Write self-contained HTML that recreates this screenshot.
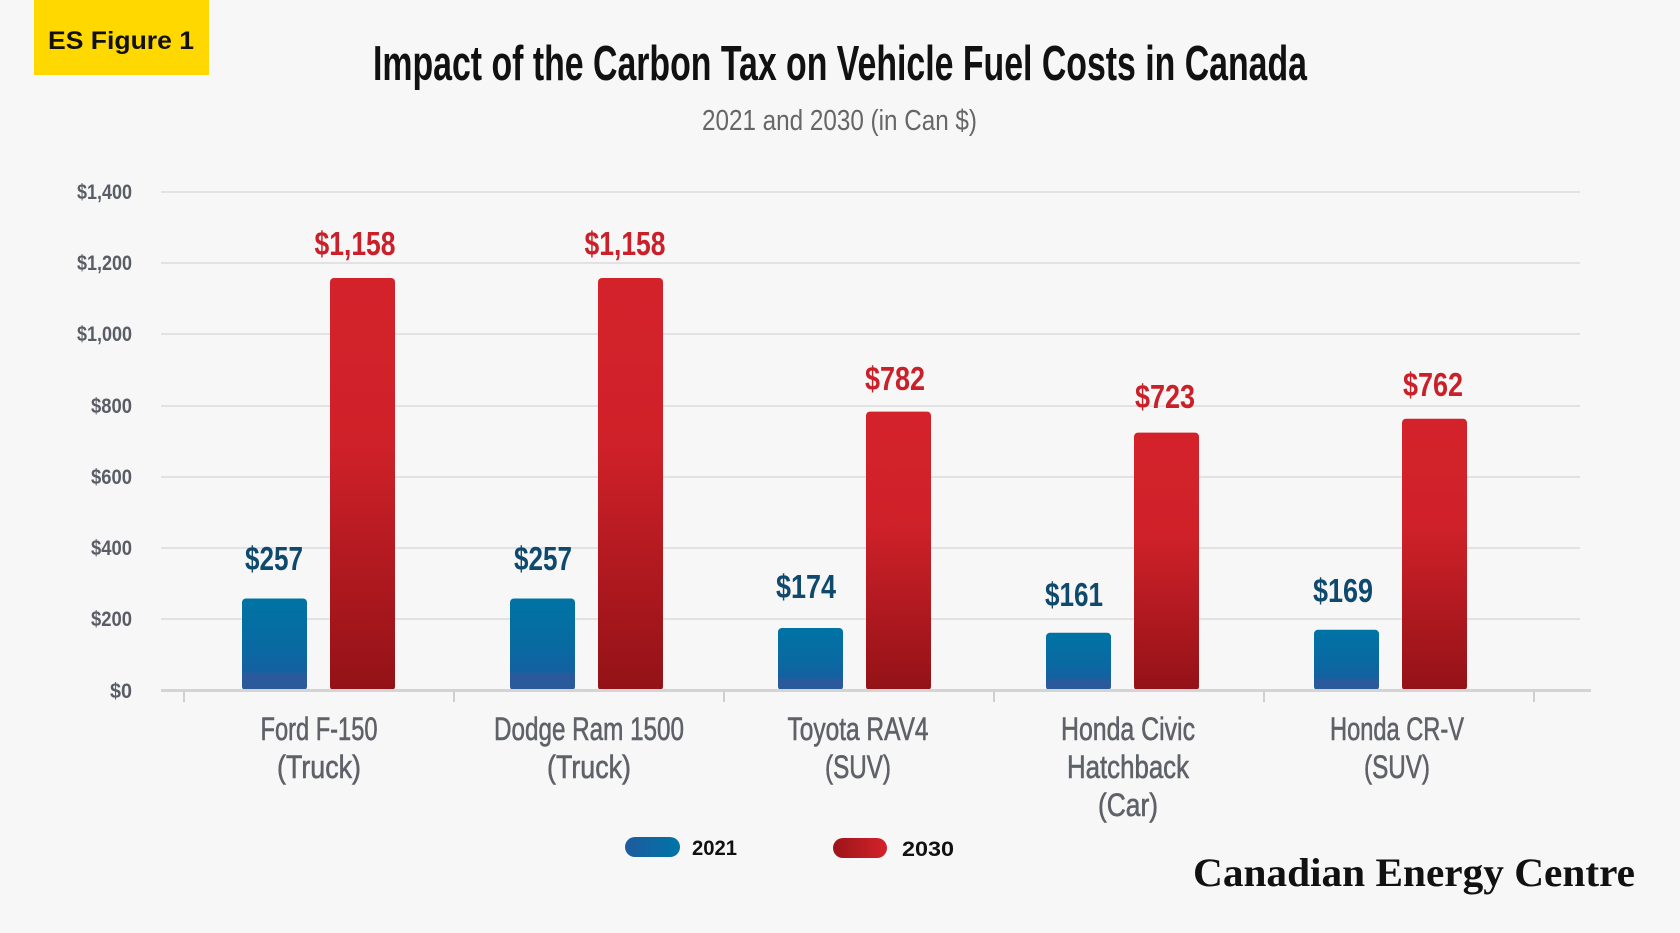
<!DOCTYPE html>
<html><head><meta charset="utf-8"><style>
html,body{margin:0;padding:0;background:#f7f7f7;}
svg{display:block;}
</style></head><body>
<svg width="1680" height="933" viewBox="0 0 1680 933" xmlns="http://www.w3.org/2000/svg">
<defs>
<linearGradient id="gb" x1="0" y1="0" x2="0" y2="1">
<stop offset="0" stop-color="#0073a4"/><stop offset="0.55" stop-color="#0a69a2"/><stop offset="0.8" stop-color="#1560a0"/><stop offset="0.82" stop-color="#2a5a9c"/><stop offset="1" stop-color="#2a5a9c"/>
</linearGradient>
<linearGradient id="gr" x1="0" y1="0" x2="0" y2="1">
<stop offset="0" stop-color="#d4222b"/><stop offset="0.4" stop-color="#cf2129"/><stop offset="1" stop-color="#931217"/>
</linearGradient>
<linearGradient id="lb" x1="0" y1="0" x2="1" y2="0"><stop offset="0" stop-color="#1e5b9e"/><stop offset="1" stop-color="#0074a6"/></linearGradient>
<linearGradient id="lr" x1="0" y1="0" x2="1" y2="0"><stop offset="0" stop-color="#9c1419"/><stop offset="1" stop-color="#d4222b"/></linearGradient>
</defs>
<rect width="1680" height="933" fill="#f7f7f7"/>
<rect x="34" y="0" width="175" height="75" fill="#ffd800"/>
<text x="121" y="49" text-anchor="middle" font-family="Liberation Sans" font-weight="bold" font-size="25" fill="#111" textLength="146" lengthAdjust="spacingAndGlyphs">ES Figure 1</text>
<text x="373" y="80" font-family="Liberation Sans" font-weight="bold" font-size="49" fill="#111" textLength="934" lengthAdjust="spacingAndGlyphs">Impact of the Carbon Tax on Vehicle Fuel Costs in Canada</text>
<text x="702" y="130" font-family="Liberation Sans" font-size="29" fill="#666" textLength="275" lengthAdjust="spacingAndGlyphs">2021 and 2030 (in Can $)</text>
<g stroke="#e2e2e2" stroke-width="2">
<line x1="161" y1="192" x2="1580" y2="192"/><line x1="161" y1="263" x2="1580" y2="263"/><line x1="161" y1="334" x2="1580" y2="334"/><line x1="161" y1="406" x2="1580" y2="406"/><line x1="161" y1="477" x2="1580" y2="477"/><line x1="161" y1="548" x2="1580" y2="548"/><line x1="161" y1="619" x2="1580" y2="619"/>
</g>
<g font-family="Liberation Sans" font-weight="bold" font-size="21" fill="#5a5d66" text-anchor="end">
<text x="132" y="199" textLength="55" lengthAdjust="spacingAndGlyphs">$1,400</text>
<text x="132" y="270" textLength="55" lengthAdjust="spacingAndGlyphs">$1,200</text>
<text x="132" y="341" textLength="55" lengthAdjust="spacingAndGlyphs">$1,000</text>
<text x="132" y="413" textLength="41" lengthAdjust="spacingAndGlyphs">$800</text>
<text x="132" y="484" textLength="41" lengthAdjust="spacingAndGlyphs">$600</text>
<text x="132" y="555" textLength="41" lengthAdjust="spacingAndGlyphs">$400</text>
<text x="132" y="626" textLength="41" lengthAdjust="spacingAndGlyphs">$200</text>
<text x="132" y="698" textLength="22" lengthAdjust="spacingAndGlyphs">$0</text>
</g>
<g>
<rect x="242" y="598.5" width="65" height="92" rx="4" fill="url(#gb)"/>
<rect x="330" y="278" width="65" height="412.5" rx="4" fill="url(#gr)"/>
<rect x="510" y="598.5" width="65" height="92" rx="4" fill="url(#gb)"/>
<rect x="598" y="278" width="65" height="412.5" rx="4" fill="url(#gr)"/>
<rect x="778" y="628" width="65" height="62.5" rx="4" fill="url(#gb)"/>
<rect x="866" y="411.6" width="65" height="278.9" rx="4" fill="url(#gr)"/>
<rect x="1046" y="632.7" width="65" height="57.8" rx="4" fill="url(#gb)"/>
<rect x="1134" y="432.6" width="65" height="257.9" rx="4" fill="url(#gr)"/>
<rect x="1314" y="629.8" width="65" height="60.7" rx="4" fill="url(#gb)"/>
<rect x="1402" y="418.7" width="65" height="271.8" rx="4" fill="url(#gr)"/>
</g>
<line x1="161" y1="690.5" x2="1591" y2="690.5" stroke="#d4d4d4" stroke-width="3"/>
<g stroke="#cfcfcf" stroke-width="2">
<line x1="184" y1="691" x2="184" y2="702"/><line x1="454" y1="691" x2="454" y2="702"/><line x1="724" y1="691" x2="724" y2="702"/><line x1="994" y1="691" x2="994" y2="702"/><line x1="1264" y1="691" x2="1264" y2="702"/><line x1="1534" y1="691" x2="1534" y2="702"/>
</g>
<g font-family="Liberation Sans" font-weight="bold" font-size="33" text-anchor="middle">
<g fill="#0f4a6e">
<text x="274" y="570" textLength="58" lengthAdjust="spacingAndGlyphs">$257</text>
<text x="543" y="570" textLength="58" lengthAdjust="spacingAndGlyphs">$257</text>
<text x="806" y="598" textLength="60" lengthAdjust="spacingAndGlyphs">$174</text>
<text x="1074" y="606" textLength="58" lengthAdjust="spacingAndGlyphs">$161</text>
<text x="1343" y="602" textLength="60" lengthAdjust="spacingAndGlyphs">$169</text>
</g>
<g fill="#c9202a">
<text x="355" y="255" textLength="81" lengthAdjust="spacingAndGlyphs">$1,158</text>
<text x="625" y="255" textLength="81" lengthAdjust="spacingAndGlyphs">$1,158</text>
<text x="895" y="390" textLength="60" lengthAdjust="spacingAndGlyphs">$782</text>
<text x="1165" y="408" textLength="60" lengthAdjust="spacingAndGlyphs">$723</text>
<text x="1433" y="396" textLength="60" lengthAdjust="spacingAndGlyphs">$762</text>
</g>
</g>
<g font-family="Liberation Sans" font-size="32" fill="#5f6168" text-anchor="middle" stroke="#5f6168" stroke-width="0.6">
<text x="319" y="740" textLength="117" lengthAdjust="spacingAndGlyphs">Ford F-150</text>
<text x="319" y="778" textLength="84" lengthAdjust="spacingAndGlyphs">(Truck)</text>
<text x="589" y="740" textLength="190" lengthAdjust="spacingAndGlyphs">Dodge Ram 1500</text>
<text x="589" y="778" textLength="84" lengthAdjust="spacingAndGlyphs">(Truck)</text>
<text x="858" y="740" textLength="141" lengthAdjust="spacingAndGlyphs">Toyota RAV4</text>
<text x="858" y="778" textLength="66" lengthAdjust="spacingAndGlyphs">(SUV)</text>
<text x="1128" y="740" textLength="134" lengthAdjust="spacingAndGlyphs">Honda Civic</text>
<text x="1128" y="778" textLength="122" lengthAdjust="spacingAndGlyphs">Hatchback</text>
<text x="1128" y="816" textLength="60" lengthAdjust="spacingAndGlyphs">(Car)</text>
<text x="1397" y="740" textLength="134" lengthAdjust="spacingAndGlyphs">Honda CR-V</text>
<text x="1397" y="778" textLength="66" lengthAdjust="spacingAndGlyphs">(SUV)</text>
</g>
<rect x="625" y="837" width="55" height="20" rx="10" fill="url(#lb)"/>
<text x="692" y="855" font-family="Liberation Sans" font-weight="bold" font-size="21" fill="#111" textLength="45" lengthAdjust="spacingAndGlyphs">2021</text>
<rect x="833" y="838" width="54" height="20" rx="10" fill="url(#lr)"/>
<text x="902" y="856" font-family="Liberation Sans" font-weight="bold" font-size="21" fill="#111" textLength="52" lengthAdjust="spacingAndGlyphs">2030</text>
<text x="1193" y="886" font-family="Liberation Serif" font-weight="bold" font-size="40" fill="#111" textLength="442" lengthAdjust="spacingAndGlyphs">Canadian Energy Centre</text>
</svg>
</body></html>
